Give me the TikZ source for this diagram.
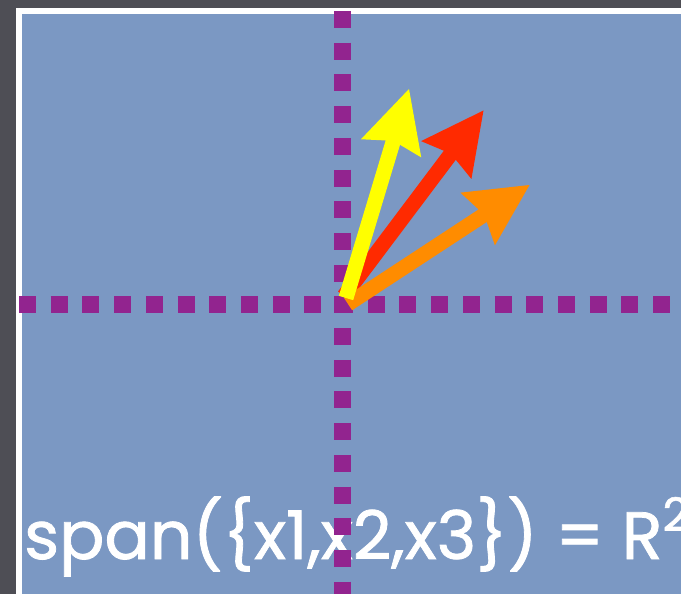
\documentclass[tikz,border=0pt]{standalone}
\usepackage{fontspec}
\setmainfont{Poppins}
\newfontfamily\lblfont[FakeBold=1.2]{Poppins}
\usetikzlibrary{calc}
\definecolor{bgdark}{RGB}{78,78,85}
\definecolor{panel}{RGB}{123,152,195}
\definecolor{axis}{RGB}{146,36,143}
\definecolor{vyellow}{RGB}{255,255,0}
\definecolor{vred}{RGB}{255,42,0}
\definecolor{vorange}{RGB}{255,140,0}
\tikzset{
  axisline/.style={axis, line width=17pt, dash pattern=on 17pt off 14.7pt},
  labeltext/.style={text=white, font=\lblfont\fontsize{67}{67}\selectfont, inner sep=0pt, anchor=base west}
}
% #1 prefix, #2 start, #3 tip, #4 colour
\newcommand\vecarrow[4]{%
  \coordinate (#1s) at (#2);
  \coordinate (#1t) at (#3);
  \coordinate (#1b) at ($(#1t)!56pt!(#1s)$);
  \coordinate (#1c) at ($(#1t)!62pt!(#1s)$);
  \fill[#4] ($(#1s)!7.5pt!90:(#1t)$) -- ($(#1b)!7.5pt!90:(#1t)$)
     -- ($(#1c)!31.5pt!90:(#1t)$) -- (#1t)
     -- ($(#1c)!31.5pt!-90:(#1t)$) -- ($(#1b)!7.5pt!-90:(#1t)$)
     -- ($(#1s)!7.5pt!-90:(#1t)$) -- cycle;
}
\begin{document}
\begin{tikzpicture}[x=1pt,y=-1pt]
  \useasboundingbox (0,0) rectangle (681,594);
  \clip (0,0) rectangle (681,594);
  \fill[bgdark] (0,0) rectangle (681,594);
  \fill[white] (16,8.5) rectangle (700,620);
  \fill[panel] (22,14) rectangle (700,620);
  % label
  \node[labeltext] (lbl) at (24,559) {span(\{x1,x2,x3\}) = R\raisebox{0.42em}{\fontsize{46}{46}\selectfont 2}};
  % axes
  \coordinate (vtop) at (342.5,11);
  \coordinate (vbot) at (342.5,620);
  \coordinate (hleft) at (19,304.5);
  \coordinate (hright) at (700,304.5);
  \draw[axisline] (vtop) -- (vbot);
  \draw[axisline] (hleft) -- (hright);
  % vectors
  \vecarrow{r}{344,296}{483.5,110.5}{vred}
  \vecarrow{o}{348,304}{529.5,185}{vorange}
  \vecarrow{y}{346,298}{409,89}{vyellow}
\end{tikzpicture}
\end{document}
